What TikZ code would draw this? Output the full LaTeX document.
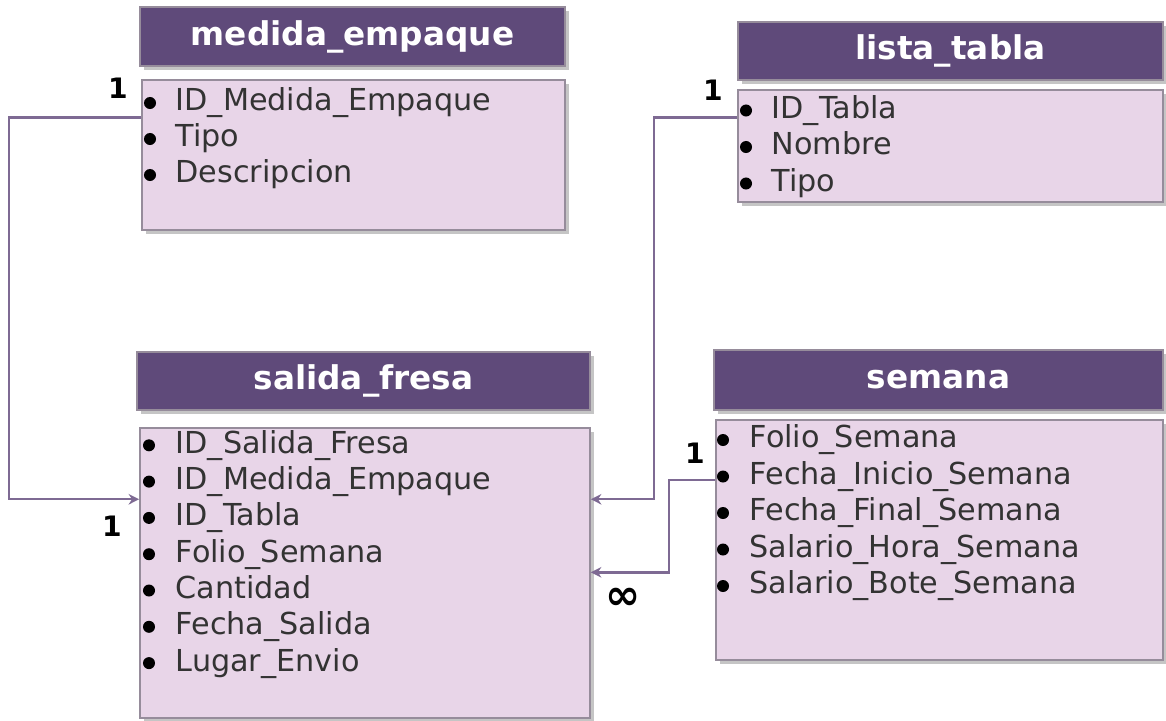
\documentclass[tikz,border=0pt]{standalone}
\usepackage{fontspec}
\setmainfont{DejaVu Sans}
\usepackage{tikz}
\usetikzlibrary{arrows.meta,shadows}
\definecolor{headfill}{RGB}{95,74,122}
\definecolor{bodyfill}{RGB}{232,213,232}
\definecolor{boxline}{RGB}{150,140,155}
\definecolor{relline}{RGB}{126,106,147}
\tikzset{
  tabhead/.style={draw=boxline, fill=headfill, text=white, inner sep=0pt,
    font=\fontsize{9.3}{11}\selectfont\bfseries,
    drop shadow={shadow xshift=0.04cm, shadow yshift=-0.04cm, fill=black!45}},
  tabbody/.style={draw=boxline, fill=bodyfill, inner sep=0pt,
    drop shadow={shadow xshift=0.04cm, shadow yshift=-0.04cm, fill=black!45}},
  field/.style={anchor=west, inner sep=0pt, text=black!80, text height=6.5pt, text depth=2pt,
    font=\fontsize{8.6}{10}\selectfont},
  dot/.style={circle, fill=black, inner sep=0pt, minimum size=0.12cm},
  card/.style={font=\fontsize{8}{10}\selectfont\bfseries, inner sep=0pt},
  rel/.style={draw=relline, line width=0.7pt, -{Stealth[length=3pt,width=3pt]}}}

\begin{document}
\begin{tikzpicture}[x=0.01cm, y=-0.01cm]
\useasboundingbox (0,0) rectangle (1166,721);

% medida_empaque
\node (mehead)[tabhead, minimum width=4.25cm, minimum height=0.59cm] at (352.5,36.5) {medida\_empaque};
\node (mebody)[tabbody, minimum width=4.23cm, minimum height=1.5cm] at (353.5,155) {};
\foreach \f [count=\i] in {ID\_Medida\_Empaque, Tipo, Descripcion} {
  \node (medot\i)[dot] at (150,67+36*\i) {};
  \node (me\i)[field] at (175,67+36*\i) {\f};
}

% lista_tabla
\node (lthead)[tabhead, minimum width=4.25cm, minimum height=0.58cm] at (950.5,51) {lista\_tabla};
\node (ltbody)[tabbody, minimum width=4.25cm, minimum height=1.12cm] at (950.5,146) {};
\foreach \f [count=\i] in {ID\_Tabla, Nombre, Tipo} {
  \node (ltdot\i)[dot] at (746,74+36.5*\i) {};
  \node (lt\i)[field] at (771,74+36.5*\i) {\f};
}

% salida_fresa
\node (sfhead)[tabhead, minimum width=4.53cm, minimum height=0.58cm] at (363.5,381) {salida\_fresa};
\node (sfbody)[tabbody, minimum width=4.5cm, minimum height=2.9cm] at (365,573) {};
\foreach \f [count=\i] in {ID\_Salida\_Fresa, ID\_Medida\_Empaque, ID\_Tabla, Folio\_Semana, Cantidad, Fecha\_Salida, Lugar\_Envio} {
  \node (sfdot\i)[dot] at (149,409+36.3*\i) {};
  \node (sf\i)[field] at (175,409+36.3*\i) {\f};
}

% semana
\node (sehead)[tabhead, minimum width=4.49cm, minimum height=0.6cm] at (938.5,380) {semana};
\node (sebody)[tabbody, minimum width=4.47cm, minimum height=2.4cm] at (939.5,540) {};
\foreach \f [count=\i] in {Folio\_Semana, Fecha\_Inicio\_Semana, Fecha\_Final\_Semana, Salario\_Hora\_Semana, Salario\_Bote\_Semana} {
  \node (sedot\i)[dot] at (723,403.5+36.5*\i) {};
  \node (se\i)[field] at (749,403.5+36.5*\i) {\f};
}

% relaciones
\draw[rel] ([yshift=-0.38cm]mebody.north west) -- ++(-132,0) |- ([yshift=-0.72cm]sfbody.north west);
\draw[rel] ([yshift=-0.28cm]ltbody.north west) -- ++(-83,0) |- ([yshift=-0.72cm]sfbody.north east);
\draw[rel] ([yshift=-0.61cm]sebody.north west) -- ++(-46,0) |- ([yshift=-1.45cm]sfbody.north east);

\node (c1)[card] at (118,88) {1};
\node (c2)[card] at (112,526) {1};
\node (c3)[card] at (713,90) {1};
\node (c4)[card] at (695,453) {1};
\node (c5)[card, font=\fontsize{12}{13}\selectfont\bfseries] at (623,599) {∞};
\end{tikzpicture}
\end{document}
